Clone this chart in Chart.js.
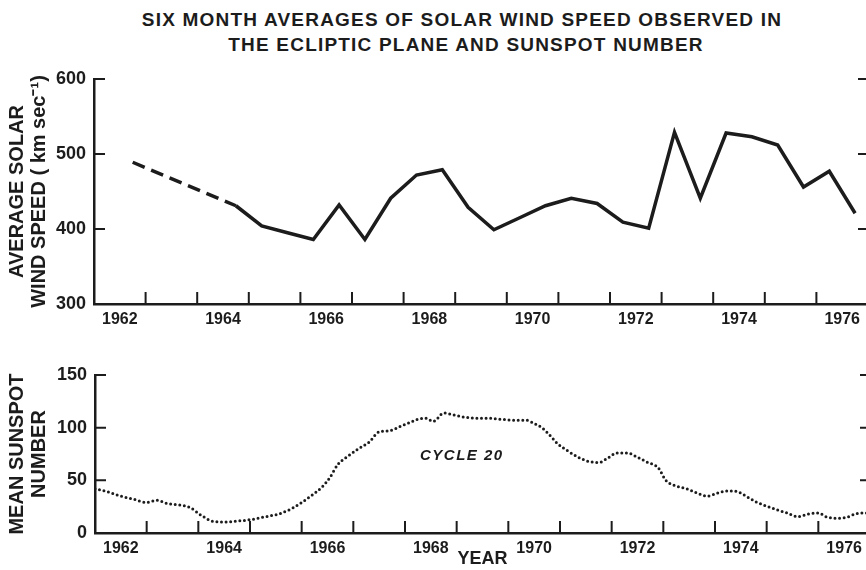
<!DOCTYPE html>
<html lang="en">
<head>
<meta charset="utf-8">
<script src="https://cdn.jsdelivr.net/npm/chart.js"></script>
<style>
    html, body { margin: 0; padding: 0; background: #fff; }
    body { width: 866px; height: 570px; overflow: hidden; position: relative;
           font-family: "Liberation Sans", Arial, sans-serif; color: #1c1c1c; }
    .title { position: absolute; left: 0; text-align: center; font-weight: bold;
             font-size: 19px; line-height: 20px; letter-spacing: 1.2px; white-space: nowrap; }
    .panel { position: absolute; left: 0; }
</style>
</head>

<body>
    <div class="title" style="top:10px; width:924px;">SIX MONTH AVERAGES OF SOLAR WIND SPEED OBSERVED IN</div>
    <div class="title" style="top:35px; width:932px;">THE ECLIPTIC PLANE AND SUNSPOT NUMBER</div>
    <div class="panel" style="top:58px;"><canvas id="windChart" width="868" height="282"></canvas></div>
    <div class="panel" style="top:350px;"><canvas id="spotChart" width="870" height="220"></canvas></div>

    <script>
        // six month averages of solar wind speed (km/s); first step is dashed (data gap)
        const windYears = [1962.75, 1964.75, 1965.25, 1965.75, 1966.25, 1966.75, 1967.25, 1967.75,
            1968.25, 1968.75, 1969.25, 1969.75, 1970.25, 1970.75, 1971.25, 1971.75, 1972.25, 1972.75,
            1973.25, 1973.75, 1974.25, 1974.75, 1975.25, 1975.75, 1976.25, 1976.75];
        const windSpeed = [489, 431, 404, 395, 386, 432, 386, 441,
            472, 479, 429, 399, 415, 431, 441, 434, 409, 401,
            529, 441, 528, 523, 512, 456, 477, 421];

        // mean sunspot number
        const spotYears = [1962.0, 1962.25, 1962.5, 1962.75, 1963.0, 1963.2, 1963.4, 1963.65, 1963.85,
            1964.05, 1964.3, 1964.55, 1964.8, 1965.05, 1965.3, 1965.55, 1965.8, 1966.0, 1966.2, 1966.4,
            1966.55, 1966.7, 1966.9, 1967.1, 1967.3, 1967.5, 1967.7, 1967.9, 1968.05, 1968.25, 1968.4,
            1968.55, 1968.75, 1968.95, 1969.15, 1969.35, 1969.6, 1969.85, 1970.1, 1970.35, 1970.5,
            1970.65, 1970.8, 1970.95, 1971.15, 1971.35, 1971.55, 1971.75, 1971.95, 1972.1, 1972.3,
            1972.5, 1972.7, 1972.9, 1973.05, 1973.25, 1973.45, 1973.65, 1973.85, 1974.05, 1974.25,
            1974.45, 1974.6, 1974.8, 1975.0, 1975.2, 1975.4, 1975.6, 1975.8, 1976.0, 1976.15,
            1976.35, 1976.55, 1976.75, 1976.95];
        const spotNumber = [42, 39, 35, 32, 29, 31, 28, 26.5, 24,
            17, 11, 10.5, 11.5, 13, 15.5, 18, 23, 29, 36, 44,
            53, 65, 73, 80, 86, 96, 97, 101, 104, 108, 109,
            106, 114, 112, 110, 109, 109, 108, 107, 107, 104,
            100, 93, 85, 78, 72, 68, 67, 72, 76, 76,
            72, 67, 62, 50, 44.5, 42, 38, 35, 38, 40,
            39, 35, 29.5, 25.5, 22, 19, 15.5, 18, 19, 15.5,
            14, 15, 18.5, 19];

        const labelYears = [1962, 1964, 1966, 1968, 1970, 1972, 1974, 1976];
        const tickYears = [1963, 1964, 1965, 1966, 1967, 1968, 1969, 1970, 1971, 1972, 1973, 1974, 1975, 1976];
        const windLevels = [400, 500, 600];
        const spotLevels = [50, 100, 150];

        const ink = '#1c1c1c';
        Chart.defaults.color = ink;
        Chart.defaults.font.family = '"Liberation Sans", Arial, sans-serif';
        Chart.defaults.font.weight = 'bold';

        // tick marks pointing into the plot, as on the original figure
        const innerTicks = {
            id: 'innerTicks',
            afterDatasetsDraw(chart, args, opts) {
                const { ctx, chartArea: a, scales: { x, y } } = chart;
                ctx.save();
                ctx.strokeStyle = ink;
                ctx.lineWidth = 2;
                ctx.beginPath();
                opts.years.forEach(yr => {
                    const px = x.getPixelForValue(yr);
                    ctx.moveTo(px, a.bottom);
                    ctx.lineTo(px, a.bottom - 12);
                });
                opts.levels.forEach(v => {
                    const py = y.getPixelForValue(v);
                    ctx.moveTo(a.left, py);
                    ctx.lineTo(a.left + 11, py);
                    ctx.moveTo(a.right, py);
                    ctx.lineTo(a.right - 10, py);
                });
                ctx.stroke();
                ctx.restore();
            }
        };

        const cycleLabel = {
            id: 'cycleLabel',
            afterDatasetsDraw(chart, args, opts) {
                if (!opts.text) return;
                const { ctx, scales: { x, y } } = chart;
                ctx.save();
                ctx.fillStyle = ink;
                ctx.font = 'italic bold 15px "Liberation Sans", Arial, sans-serif';
                ctx.letterSpacing = '1.5px';
                ctx.textAlign = 'center';
                ctx.textBaseline = 'middle';
                ctx.fillText(opts.text, x.getPixelForValue(opts.x), y.getPixelForValue(opts.y));
                ctx.restore();
            }
        };

        function xAxis(height, title) {
            return {
                type: 'linear',
                min: 1962,
                max: 1977,
                afterBuildTicks: s => { s.ticks = labelYears.map(v => ({ value: v + 0.5 })); },
                afterFit: s => { s.height = height; },
                grid: { display: false, drawTicks: false },
                border: { display: true, color: ink, width: 2.5 },
                ticks: {
                    autoSkip: false,
                    maxRotation: 0,
                    padding: 6,
                    font: { size: 16, weight: 'bold' },
                    callback: v => String(Math.floor(v))
                },
                title: title ? {
                    display: true, text: title,
                    font: { size: 18, weight: 'bold', lineHeight: 1.1 },
                    padding: { top: 0, bottom: 1 }
                } : { display: false }
            };
        }

        function yAxis(width, min, max, step, title) {
            return {
                min: min,
                max: max,
                afterFit: s => { s.width = width; },
                grid: { display: false, drawTicks: false },
                border: { display: true, color: ink, width: 2.5 },
                ticks: { stepSize: step, padding: 8, font: { size: 18, weight: 'bold' } },
                title: {
                    display: true, text: title,
                    font: { size: 20, weight: 'bold', lineHeight: 1.1 },
                    padding: { top: 6, bottom: 0 }
                }
            };
        }

        new Chart(document.getElementById('windChart'), {
            type: 'line',
            data: {
                datasets: [{
                    data: windYears.map((yr, i) => ({ x: yr, y: windSpeed[i] })),
                    borderColor: ink,
                    borderWidth: 3.5,
                    pointRadius: 0,
                    tension: 0,
                    segment: {
                        borderDash: c => c.p0DataIndex === 0 ? [13, 7] : undefined
                    }
                }]
            },
            options: {
                responsive: false,
                animation: false,
                layout: { padding: { top: 21, right: 0, bottom: 0, left: 0 } },
                plugins: {
                    legend: { display: false },
                    tooltip: { enabled: false },
                    innerTicks: { years: tickYears, levels: windLevels },
                    cycleLabel: {}
                },
                scales: {
                    x: xAxis(36, null),
                    y: yAxis(94, 300, 600, 100, ['AVERAGE SOLAR', 'WIND SPEED ( km sec⁻¹)'])
                }
            },
            plugins: [innerTicks, cycleLabel]
        });

        new Chart(document.getElementById('spotChart'), {
            type: 'line',
            data: {
                datasets: [{
                    data: spotYears.map((yr, i) => ({ x: yr, y: spotNumber[i] })),
                    borderColor: ink,
                    borderWidth: 3,
                    borderDash: [0, 4.6],
                    borderCapStyle: 'round',
                    pointRadius: 0,
                    cubicInterpolationMode: 'monotone'
                }]
            },
            options: {
                responsive: false,
                animation: false,
                layout: { padding: { top: 25, right: 0, bottom: 0, left: 0 } },
                plugins: {
                    legend: { display: false },
                    tooltip: { enabled: false },
                    innerTicks: { years: tickYears, levels: spotLevels },
                    cycleLabel: { text: 'CYCLE 20', x: 1969.1, y: 73 }
                },
                scales: {
                    x: xAxis(37, 'YEAR'),
                    y: yAxis(95, 0, 150, 50, ['MEAN SUNSPOT', 'NUMBER'])
                }
            },
            plugins: [innerTicks, cycleLabel]
        });
    </script>
</body>

</html>
